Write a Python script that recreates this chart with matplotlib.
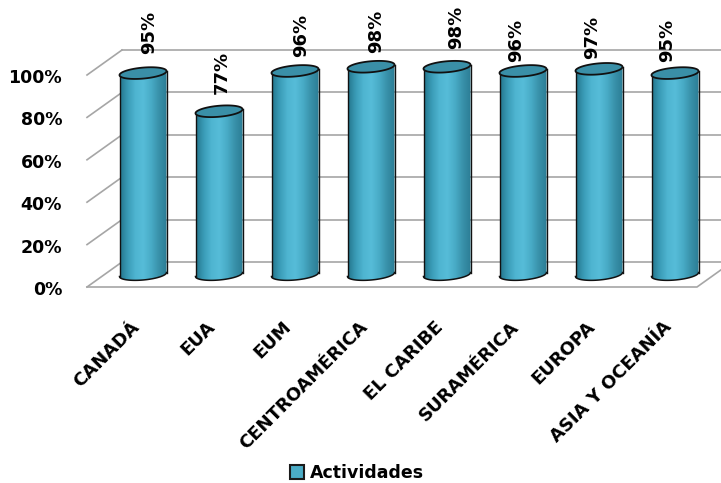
import matplotlib
matplotlib.use('Agg')
import matplotlib.pyplot as plt
import numpy as np
from matplotlib.patches import Polygon, Patch
from matplotlib.colors import LinearSegmentedColormap

# Data
categories = ['CANADÁ', 'EUA', 'EUM', 'CENTROAMÉRICA', 'EL CARIBE',
              'SURAMÉRICA', 'EUROPA', 'ASIA Y OCEANÍA']
values = [95, 77, 96, 98, 98, 96, 97, 95]
y_ticks = [0, 20, 40, 60, 80, 100]
series_name = 'Actividades'

# small per-label nudges (pixels) so the value labels sit like in Excel
label_dx = [6, 3, 6, 5, 9, -7, -7, -8]
label_gap = [19, 17, 14, 14, 18, 9, 10, 11]

plt.rcParams['font.family'] = 'DejaVu Sans'

W, H = 721, 483
fig = plt.figure(figsize=(W / 100, H / 100), dpi=100)
ax = fig.add_axes([0, 0, 1, 1])
ax.set_axis_off()

# pixel layout: bar i centred at 143 + 76*i, 0% at y=274.5, 2.12 px per %
PX_X0, PX_STEP = 143, 76
PX_Y0, PX_PER = 274.5, 2.12


def dx(px):
    return px / PX_STEP


def dy(px):
    return px / PX_PER


ax.set_xlim(-PX_X0 / PX_STEP, (W - PX_X0) / PX_STEP)
ax.set_ylim((PX_Y0 - H) / PX_PER, PX_Y0 / PX_PER)

# 3D box: depth offsets and wall positions (mid-depth)
DX, DY = dx(17.5), dy(12.5)
x_left = dx(87 - PX_X0) + DX
x_right = dx(697 - PX_X0) + DX
grid_col = '#A6A6A6'

for p in y_ticks:
    # side wall diagonal
    ax.plot([x_left - DX, x_left + DX], [p - DY, p + DY], color=grid_col, lw=1.2, zorder=1)
    # back wall line
    ax.plot([x_left + DX, x_right + DX], [p + DY, p + DY], color=grid_col, lw=1.2, zorder=1)
    ax.text(dx(62 - PX_X0), p - DY - dy(3), f'{p}%', ha='right', va='center',
            fontsize=12.5, fontweight='bold')

# floor front and right edge
ax.plot([x_left - DX, x_right - DX, x_right + DX], [-DY, -DY, DY],
        color=grid_col, lw=1.2, zorder=1)

# cylinders
cmap = LinearSegmentedColormap.from_list(
    'cyl', ['#24758D', '#3A9CB7', '#4FB5D1', '#56BCD8', '#48ABC6', '#3890A9', '#2B7D95'])
a = dx(23.5)
b = dy(5.5)
tilt = dy(2)
grad = np.linspace(0, 1, 256).reshape(1, -1)

for i, v in enumerate(values):
    t_bot = np.linspace(np.pi, 2 * np.pi, 60)
    t_top = np.linspace(0, np.pi, 60)
    bx = i + a * np.cos(t_bot)
    by = b * np.sin(t_bot) + tilt * np.cos(t_bot)
    tx = i + a * np.cos(t_top)
    ty = v + b * np.sin(t_top) + tilt * np.cos(t_top)
    body = Polygon(np.column_stack([np.r_[bx, tx], np.r_[by, ty]]), closed=True,
                   facecolor='none', edgecolor='none', zorder=3)
    ax.add_patch(body)
    im = ax.imshow(grad, cmap=cmap, aspect='auto', origin='lower',
                   extent=(i - a, i + a, -b - tilt - 1, v + b + tilt + 1),
                   zorder=3, interpolation='bilinear')
    im.set_clip_path(body)
    # outline: sides and bottom arc
    ax.plot(bx, by, color='#111111', lw=1.1, zorder=4)
    ax.plot([i - a, i - a], [-tilt, v - tilt], color='#111111', lw=1.0, zorder=4)
    ax.plot([i + a, i + a], [tilt, v + tilt], color='#111111', lw=1.0, zorder=4)
    # top ellipse
    t = np.linspace(0, 2 * np.pi, 120)
    top = Polygon(np.column_stack([i + a * np.cos(t), v + b * np.sin(t) + tilt * np.cos(t)]),
                  closed=True, facecolor='#3A8FA7', edgecolor='#111111', lw=1.3, zorder=5)
    ax.add_patch(top)
    # value label
    ax.text(i + dx(label_dx[i]), v + dy(label_gap[i]), f'{v}%', rotation=90,
            ha='center', va='bottom', fontsize=13, fontweight='bold', zorder=6)
    # category label
    ax.text(i - dx(13), dy(PX_Y0 - 318), categories[i], rotation=45,
            rotation_mode='anchor', ha='right', va='top',
            fontsize=13, fontweight='bold')

ax.legend(handles=[Patch(facecolor='#4BACC6', edgecolor='#1A1A1A', lw=1.5, label=series_name)],
          loc='center', bbox_to_anchor=(357 / W, 1 - 473 / H), frameon=False,
          prop={'weight': 'bold', 'size': 12.5}, handlelength=0.8, handleheight=0.8,
          handletextpad=0.3, borderpad=0)

fig.savefig('out.png', dpi=100)
